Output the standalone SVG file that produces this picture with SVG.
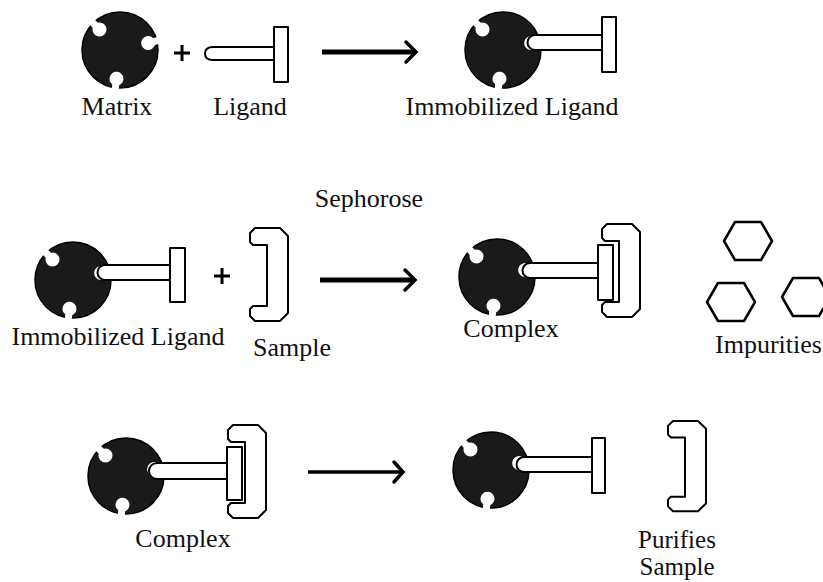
<svg xmlns="http://www.w3.org/2000/svg" width="823" height="582" viewBox="0 0 823 582">
<style>
.lbl{font-family:"Liberation Serif","Times New Roman",serif;font-size:26px;fill:#111;text-anchor:middle}
.out{fill:#fff;stroke:#000;stroke-width:2;stroke-linejoin:round}
.plus{stroke:#000;stroke-width:3;fill:none}
.arrow{stroke:#000;fill:none;stroke-linecap:butt}
.head{stroke:#000;fill:none;stroke-width:3.5;stroke-linejoin:miter;stroke-linecap:round}
</style>
<defs>
<g id="notch"><circle cx="29" cy="0" r="7" fill="#fff"/><rect x="29" y="-3.5" width="14" height="7" fill="#fff"/></g>
<g id="bead">
<circle cx="0" cy="0" r="38" fill="#1a1a1a" stroke="#000" stroke-width="1.5"/>
<use href="#notch" transform="rotate(-135)"/>
<use href="#notch" transform="rotate(-14)"/>
<use href="#notch" transform="rotate(97)"/>
</g>
<path id="bracket" class="out" d="M 5 0 H 30 L 38 8 V 85 L 30 93 H 5 L 0 88 V 81 L 3 78 H 17 V 17 H 3 L 0 14 V 5 Z"/>
<polygon id="hex" class="out" points="-24,0 -13,-19 13,-19 24,0 13,19 -13,19" style="stroke-width:2.5"/>
</defs>

<!-- Row 1 -->
<g id="matrix">
<use href="#bead" transform="translate(120,50)"/>
<text class="lbl" x="117" y="115">Matrix</text>
</g>
<g id="plus1"><path class="plus" d="M 174 53 H 190 M 182 45 V 61"/></g>
<g id="ligand">
<path class="out" d="M 275 47 H 213 Q 205 47 205 53.5 Q 205 60 213 60 H 275 Z"/>
<rect class="out" x="274" y="27" width="14" height="55"/>
<text class="lbl" x="250" y="115">Ligand</text>
</g>
<g id="immobilized1">
<use href="#bead" transform="translate(503,50)"/>
<path class="out" d="M 603 35 H 535 A 7.5 7.5 0 0 0 535 50 H 603 Z"/>
<rect class="out" x="602" y="17" width="14" height="55"/>
<text class="lbl" x="512" y="115">Immobilized Ligand</text>
</g>

<!-- Row 2 -->
<text class="lbl" x="369" y="207">Sephorose</text>
<g id="immobilized2">
<use href="#bead" transform="translate(73,280)"/>
<path class="out" d="M 171 265 H 105 A 7.5 7.5 0 0 0 105 280 H 171 Z"/>
<rect class="out" x="170" y="248" width="15" height="54"/>
<text class="lbl" x="118" y="345">Immobilized Ligand</text>
</g>
<g id="plus2"><path class="plus" d="M 214 276 H 230 M 222 268 V 284"/></g>
<g id="sample">
<use href="#bracket" transform="translate(250,228)"/>
<text class="lbl" x="292" y="356">Sample</text>
</g>
<g id="complex1">
<use href="#bead" transform="translate(497,277)"/>
<path class="out" d="M 599 263 H 530 A 7.5 7.5 0 0 0 530 278 H 599 Z"/>
<use href="#bracket" transform="translate(602,224)"/>
<rect class="out" x="598" y="245" width="15" height="55"/>
<text class="lbl" x="511" y="337">Complex</text>
</g>
<g id="impurities">
<use href="#hex" transform="translate(748,241)"/>
<use href="#hex" transform="translate(731,302)"/>
<use href="#hex" transform="translate(806,297)"/>
<text class="lbl" x="715" y="353" style="text-anchor:start">Impurities</text>
</g>

<!-- Row 3 -->
<g id="complex2">
<use href="#bead" transform="translate(126,476)"/>
<path class="out" d="M 228 463 H 157 A 8 8 0 0 0 157 479 H 228 Z"/>
<use href="#bracket" transform="translate(228,425)"/>
<rect class="out" x="227" y="447" width="15" height="53"/>
<text class="lbl" x="183" y="547">Complex</text>
</g>
<g id="released">
<use href="#bead" transform="translate(491,470)"/>
<path class="out" d="M 593 457 H 524 A 7.5 7.5 0 0 0 524 472 H 593 Z"/>
<rect class="out" x="592" y="438" width="13" height="55"/>
</g>
<g id="purified">
<use href="#bracket" transform="translate(668,421) scale(1,0.97)"/>
<text class="lbl" x="677" y="548" style="font-size:25px">Purifies</text>
<text class="lbl" x="677" y="575" style="font-size:25px">Sample</text>
</g>

<g id="connectors">
<line class="arrow" x1="322" y1="52" x2="414" y2="52" stroke-width="5"/>
<polyline class="head" points="406,42 416,52 406,62"/>
<line class="arrow" x1="320" y1="280" x2="413" y2="280" stroke-width="5"/>
<polyline class="head" points="405,270 415,280 405,290"/>
<line class="arrow" x1="308" y1="472" x2="401" y2="472" stroke-width="3.5"/>
<polyline class="head" points="394,462 403,472 394,482"/>
</g>
</svg>
